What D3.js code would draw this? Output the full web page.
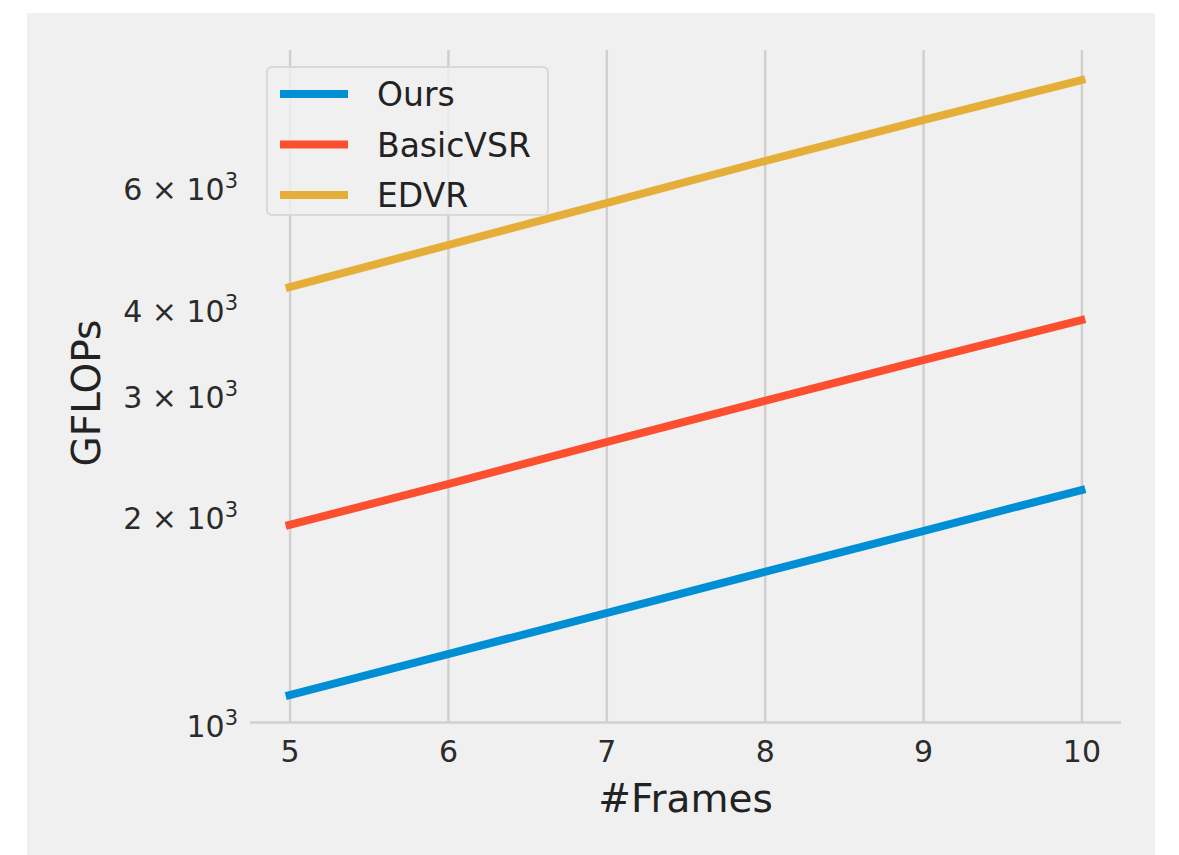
<!DOCTYPE html>
<html>
<head>
<meta charset="utf-8">
<script src="https://cdn.jsdelivr.net/npm/d3@7"></script>
<style>
  html, body { margin: 0; padding: 0; background: #ffffff; }
  svg { display: block; font-family: "DejaVu Sans", sans-serif; }
</style>
</head>
<body>
<svg id="chart" width="1179" height="855"></svg>
<script>
// ---- data ----
const frames = [5, 6, 7, 8, 9, 10];
const seriesNames = ["Ours", "BasicVSR", "EDVR"];
const oursGFLOPs = [1094, 1255, 1439, 1651, 1893, 2171];
const basicVSRGFLOPs = [1932, 2215, 2549, 2924, 3353, 3833];
const edvrGFLOPs = [4279, 4923, 5666, 6520, 7476, 8548];
const seriesColors = ["#008fd5", "#fc4f30", "#e5ae38"];
const yTickValues = [1000, 2000, 3000, 4000, 6000];
const yTickMantissas = ["", "2", "3", "4", "6"];
const yTickExponent = "3";
const xLabel = "#Frames";
const yLabel = "GFLOPs";

const seriesValues = [oursGFLOPs, basicVSRGFLOPs, edvrGFLOPs];

// ---- layout ----
const svg = d3.select("#chart");
const pLeft = 250, pRight = 1121, pTop = 50, pBottom = 722;

svg.append("rect")
  .attr("x", 27).attr("y", 13).attr("width", 1128).attr("height", 860)
  .attr("fill", "#f0f0f0");

const x = d3.scaleLinear().domain([4.75, 10.25]).range([pLeft, pRight]);
const y = d3.scaleLog().domain([1000, 9450]).range([pBottom, pTop]);

// vertical grid via axis
const gx = svg.append("g")
  .attr("transform", `translate(0,${pBottom})`)
  .call(d3.axisBottom(x).tickValues(frames).tickSize(-(pBottom - pTop)).tickFormat(d3.format("d")));
gx.select(".domain").remove();
gx.selectAll(".tick line").attr("stroke", "#d0d0d0").attr("stroke-width", 2.5);
gx.selectAll(".tick text")
  .attr("y", 40).attr("dy", 0)
  .attr("fill", "#2b2b2b")
  .attr("font-size", 30)
  .attr("font-family", "DejaVu Sans, sans-serif");

// horizontal major grid line (10^3)
const gyGrid = svg.append("g")
  .attr("transform", `translate(${pLeft},0)`)
  .call(d3.axisLeft(y).tickValues([1000]).tickSize(-(pRight - pLeft)).tickFormat(""));
gyGrid.select(".domain").remove();
gyGrid.selectAll(".tick line").attr("stroke", "#d0d0d0").attr("stroke-width", 2.5);

// y tick labels (log axis, mathtext-like)
const gy = svg.append("g")
  .attr("transform", `translate(${pLeft},0)`)
  .call(d3.axisLeft(y).tickValues(yTickValues).tickSize(0).tickFormat(""));
gy.select(".domain").remove();
gy.selectAll(".tick").each(function(d, i) {
  const t = d3.select(this).select("text")
    .attr("x", -12).attr("y", 14).attr("dy", 0)
    .attr("text-anchor", "end")
    .attr("fill", "#2b2b2b")
    .attr("font-size", 30)
    .attr("font-family", "DejaVu Sans, sans-serif")
    .text(null);
  const m = yTickMantissas[i];
  t.append("tspan").text(m ? m + " \u00d7 10" : "10");
  t.append("tspan").attr("font-size", 21).attr("dy", -12).text(yTickExponent);
});

// lines
const line = d3.line()
  .x((d, i) => x(frames[i]))
  .y(d => y(d));

svg.append("g").selectAll("path")
  .data(seriesValues)
  .join("path")
  .attr("d", d => line(d))
  .attr("fill", "none")
  .attr("stroke", (d, i) => seriesColors[i])
  .attr("stroke-width", 8)
  .attr("stroke-linecap", "square");

// axis labels
svg.append("text")
  .attr("x", (pLeft + pRight) / 2).attr("y", 812)
  .attr("text-anchor", "middle")
  .attr("font-size", 39)
  .attr("fill", "#222")
  .text(xLabel);

svg.append("text")
  .attr("transform", `translate(100,393) rotate(-90)`)
  .attr("text-anchor", "middle")
  .attr("font-size", 39)
  .attr("fill", "#222")
  .text(yLabel);

// legend
const lg = svg.append("g");
lg.append("rect")
  .attr("x", 267).attr("y", 67).attr("width", 281).attr("height", 148)
  .attr("rx", 5)
  .attr("fill", "#f0f0f0").attr("fill-opacity", 0.8)
  .attr("stroke", "#d8d8d8").attr("stroke-width", 2);
const items = lg.selectAll("g.item")
  .data(seriesNames)
  .join("g")
  .attr("class", "item")
  .attr("transform", (d, i) => `translate(0,${94 + i * 50.5})`);
items.append("line")
  .attr("x1", 284).attr("x2", 344)
  .attr("stroke", (d, i) => seriesColors[i])
  .attr("stroke-width", 8)
  .attr("stroke-linecap", "square");
items.append("text")
  .attr("x", 377).attr("y", 12)
  .attr("font-size", 33)
  .attr("fill", "#222")
  .text(d => d);
</script>
</body>
</html>
